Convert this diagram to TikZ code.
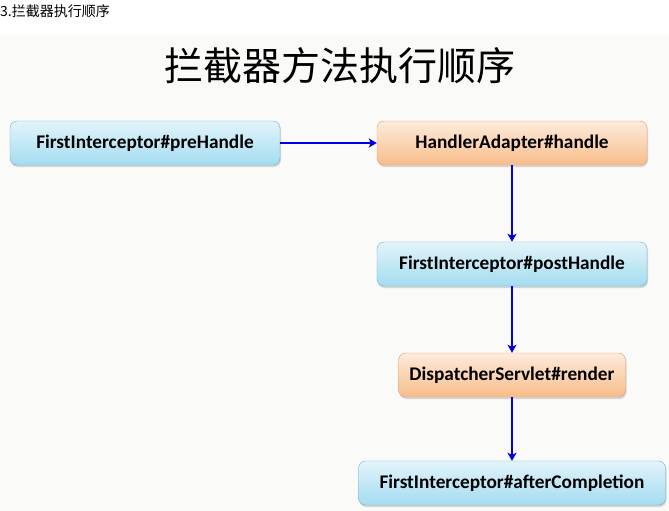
\documentclass[tikz,border=0pt]{standalone}
\usepackage{fontspec}
\setmainfont{Carlito}
\newfontfamily\cjk{Noto Sans CJK SC}
\usetikzlibrary{arrows.meta,shadows}
\definecolor{slidebg}{HTML}{FAFAF8}
\definecolor{bluetop}{HTML}{E2F4FB}
\definecolor{bluebot}{HTML}{A4DCF0}
\definecolor{blueline}{HTML}{6AAFCB}
\definecolor{orangetop}{HTML}{FDEBDC}
\definecolor{orangebot}{HTML}{F8BD8A}
\definecolor{orangeline}{HTML}{DDA27A}
\definecolor{arrowblue}{HTML}{0000E6}
\begin{document}
\begin{tikzpicture}[
  x=1pt, y=-1pt,
  box/.style={rounded corners=7pt, minimum height=44pt, font=\bfseries\fontsize{19.3}{22}\selectfont,
    drop shadow={shadow xshift=1pt, shadow yshift=-2pt, opacity=0.3}},
  bluebox/.style={box, draw=blueline, top color=bluetop, bottom color=bluebot},
  orangebox/.style={box, draw=orangeline, top color=orangetop, bottom color=orangebot},
  e/.style={arrowblue, line width=1.8pt, -{Stealth[length=8pt,width=9pt,inset=2pt]}}
]
\useasboundingbox (0,0) rectangle (669,511);
\fill[white] (0,0) rectangle (669,511);
\fill[slidebg] (0,35) rectangle (669,511);

\node[anchor=west, inner sep=0pt] (caption) at (0,11) {\cjk\fontsize{14}{16}\selectfont 3.拦截器执行顺序};
\node (title) at (340,66) {\cjk\fontsize{39}{44}\selectfont 拦截器方法执行顺序};

\node[bluebox, minimum width=270pt] (pre) at (145,143) {FirstInterceptor\#preHandle};
\node[orangebox, minimum width=270pt] (handle) at (512,143) {HandlerAdapter\#handle};
\node[bluebox, minimum width=270pt] (post) at (512,264) {FirstInterceptor\#postHandle};
\node[orangebox, minimum width=227pt] (render) at (512,375) {DispatcherServlet\#render};
\node[bluebox, minimum width=307pt] (after) at (512,483) {FirstInterceptor\#afterCompletion};

\draw[e] (pre)--(handle);
\draw[e] (handle)--(post);
\draw[e] (post)--(render);
\draw[e] (render)--(after);
\end{tikzpicture}
\end{document}
